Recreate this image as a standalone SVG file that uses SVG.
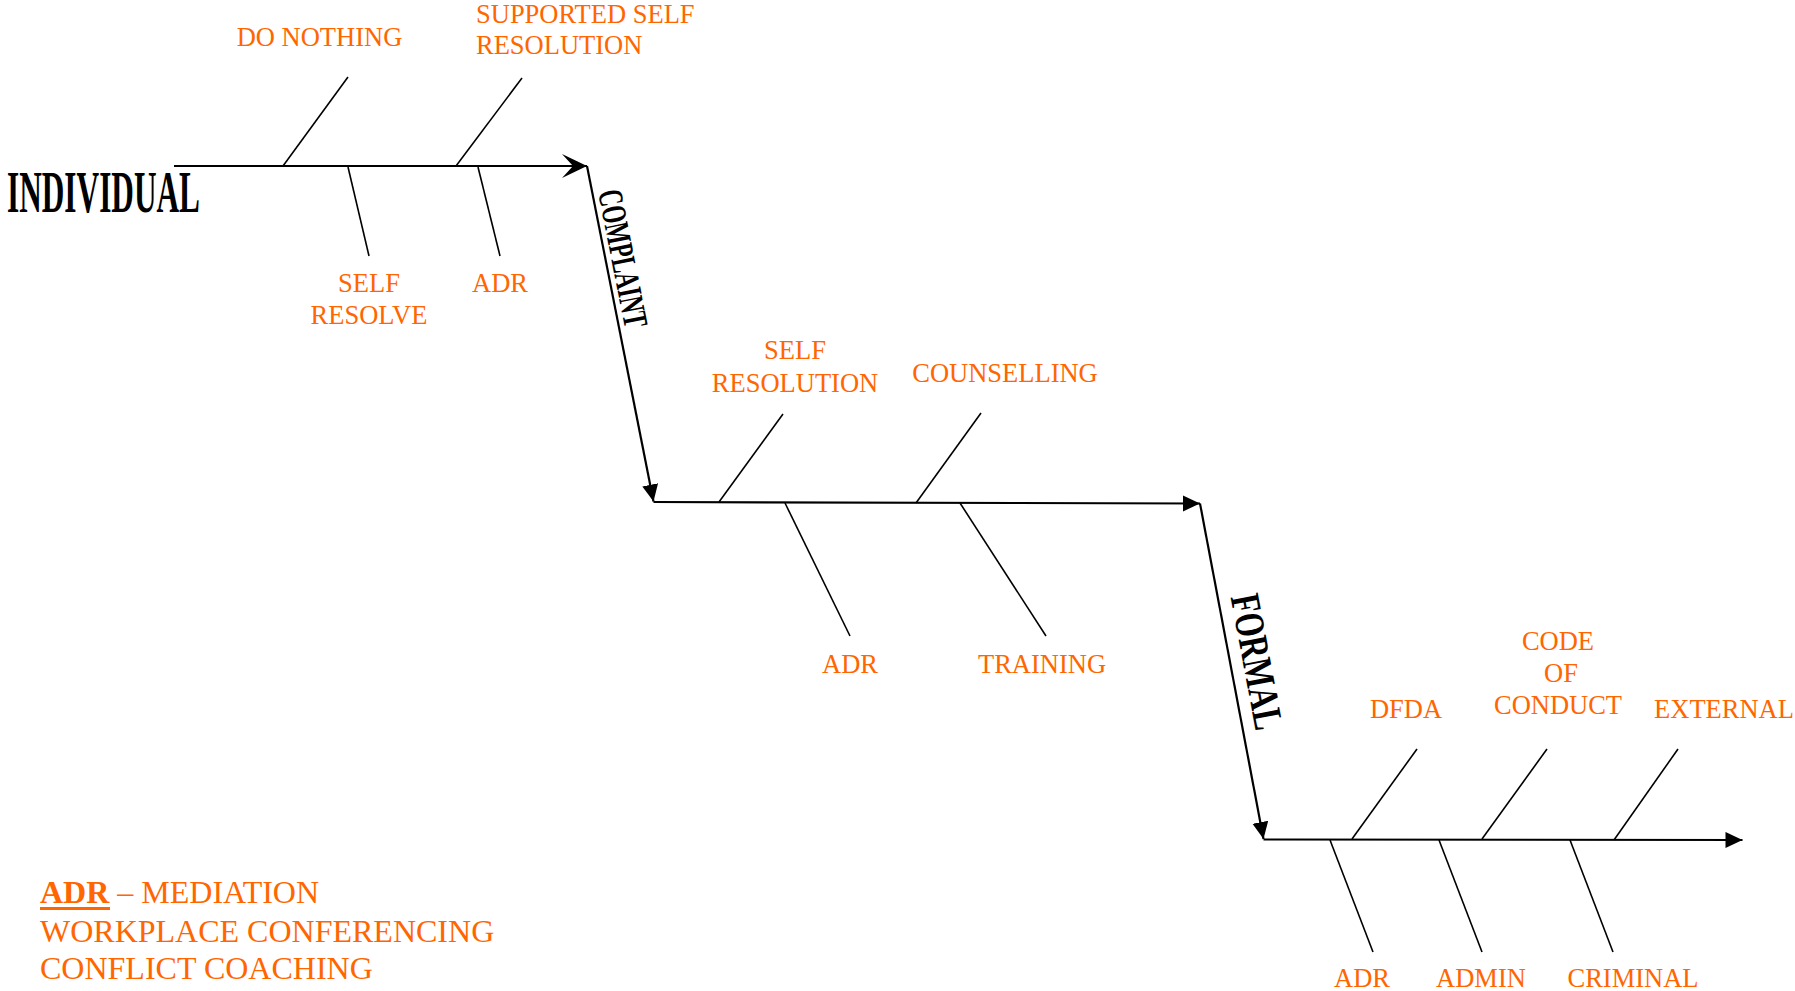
<svg xmlns="http://www.w3.org/2000/svg" width="1795" height="991" viewBox="0 0 1795 991">
<style>
  .lbl { font-family: "Liberation Serif", "Times New Roman", serif; font-size: 26.5px; fill: #FF6600; text-anchor: middle; }
  .lbl-start { text-anchor: start; }
  .head { font-family: "Liberation Serif", "Times New Roman", serif; font-weight: bold; fill: #000; }
  .legend { font-family: "Liberation Serif", "Times New Roman", serif; font-size: 32px; fill: #FF6600; }
  .spine { stroke: #000; stroke-width: 2.2; fill: none; }
  .branch { stroke: #000; stroke-width: 1.6; fill: none; }
</style>
<defs>
  <marker id="stealth" markerUnits="userSpaceOnUse" markerWidth="30" markerHeight="28" refX="26" refY="13" orient="auto">
    <path d="M26,13 L1,1 L12,13 L1,25 Z" fill="#000"/>
  </marker>
  <marker id="tri" markerUnits="userSpaceOnUse" markerWidth="20" markerHeight="20" refX="17" refY="8" orient="auto">
    <path d="M17,8 L0,0 L0,16 Z" fill="#000"/>
  </marker>
</defs>
<rect width="1795" height="991" fill="#fff"/>

<g id="connectors">
  <line class="spine" x1="174" y1="166" x2="587" y2="166" marker-end="url(#stealth)"/>
  <line class="spine" x1="587" y1="166" x2="653.5" y2="501.5" marker-end="url(#tri)"/>
  <line class="spine" x1="653.5" y1="502" x2="1200" y2="503.5" marker-end="url(#tri)"/>
  <line class="spine" x1="1200" y1="503.5" x2="1263.5" y2="839" marker-end="url(#tri)"/>
  <line class="spine" x1="1263.5" y1="839.5" x2="1742.5" y2="840" marker-end="url(#tri)"/>

  <line class="branch" x1="283" y1="166" x2="348" y2="77"/>
  <line class="branch" x1="456" y1="166" x2="522" y2="78"/>
  <line class="branch" x1="348" y1="167" x2="369" y2="256"/>
  <line class="branch" x1="478" y1="167" x2="500" y2="256"/>

  <line class="branch" x1="719" y1="502" x2="783" y2="414"/>
  <line class="branch" x1="916" y1="503" x2="981" y2="413"/>
  <line class="branch" x1="785" y1="503" x2="850" y2="636"/>
  <line class="branch" x1="960" y1="503" x2="1046" y2="636"/>

  <line class="branch" x1="1352" y1="839" x2="1417" y2="749"/>
  <line class="branch" x1="1482" y1="839" x2="1547" y2="749"/>
  <line class="branch" x1="1614" y1="840" x2="1678" y2="749"/>
  <line class="branch" x1="1330" y1="840" x2="1373" y2="952"/>
  <line class="branch" x1="1439" y1="840" x2="1482" y2="952"/>
  <line class="branch" x1="1570" y1="840" x2="1613" y2="952"/>
</g>

<g id="individual">
  <text class="head" x="7" y="212" font-size="59" textLength="193" lengthAdjust="spacingAndGlyphs">INDIVIDUAL</text>
</g>
<g id="complaint">
  <text class="head" font-size="35" textLength="140" lengthAdjust="spacingAndGlyphs" transform="translate(598,192) rotate(78.8)">COMPLAINT</text>
</g>
<g id="formal">
  <text class="head" font-size="42" textLength="137" lengthAdjust="spacingAndGlyphs" transform="translate(1230.5,597) rotate(79.3)">FORMAL</text>
</g>

<g id="do-nothing"><text class="lbl" x="319.5" y="46">DO NOTHING</text></g>
<g id="supported-self-resolution">
  <text class="lbl lbl-start" x="476" y="23">SUPPORTED SELF</text>
  <text class="lbl lbl-start" x="476" y="54">RESOLUTION</text>
</g>
<g id="self-resolve">
  <text class="lbl" x="369" y="292">SELF</text>
  <text class="lbl" x="369" y="324">RESOLVE</text>
</g>
<g id="adr-1"><text class="lbl" x="500" y="292">ADR</text></g>

<g id="self-resolution">
  <text class="lbl" x="795" y="359">SELF</text>
  <text class="lbl" x="795" y="392">RESOLUTION</text>
</g>
<g id="counselling"><text class="lbl" x="1005" y="382">COUNSELLING</text></g>
<g id="adr-2"><text class="lbl" x="850" y="673">ADR</text></g>
<g id="training"><text class="lbl" x="1042" y="673">TRAINING</text></g>

<g id="dfda"><text class="lbl" x="1406" y="718">DFDA</text></g>
<g id="code-of-conduct">
  <text class="lbl" x="1558" y="650">CODE</text>
  <text class="lbl" x="1561" y="682">OF</text>
  <text class="lbl" x="1558" y="714">CONDUCT</text>
</g>
<g id="external"><text class="lbl" x="1724" y="718">EXTERNAL</text></g>
<g id="adr-3"><text class="lbl" x="1362" y="987">ADR</text></g>
<g id="admin"><text class="lbl" x="1481" y="987">ADMIN</text></g>
<g id="criminal"><text class="lbl" x="1633" y="987">CRIMINAL</text></g>

<g id="legend">
  <text class="legend" x="40" y="903"><tspan font-weight="bold">ADR</tspan> – MEDIATION</text>
  <line x1="40" y1="908.5" x2="110" y2="908.5" stroke="#FF6600" stroke-width="3"/>
  <text class="legend" x="40" y="942">WORKPLACE CONFERENCING</text>
  <text class="legend" x="40" y="979">CONFLICT COACHING</text>
</g>
</svg>
